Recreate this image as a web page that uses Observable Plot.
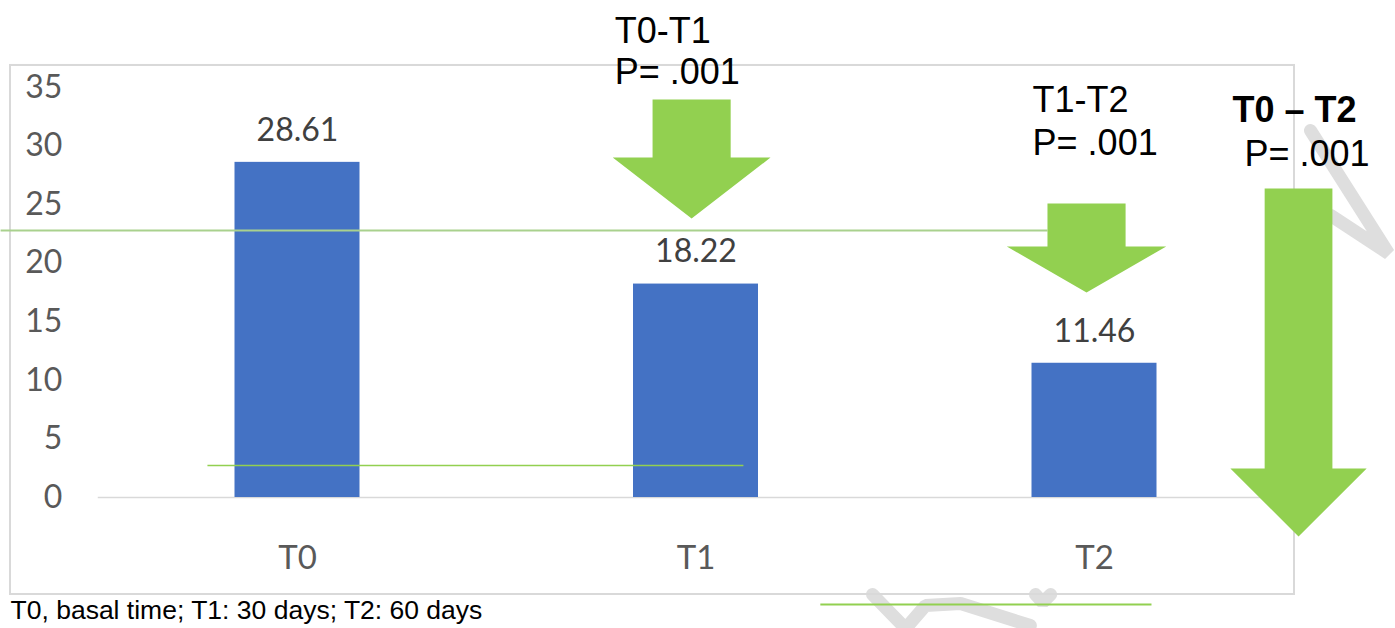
<!DOCTYPE html>
<html><head><meta charset="utf-8">
<script src="https://cdn.jsdelivr.net/npm/d3@7"></script>
<script src="https://cdn.jsdelivr.net/npm/@observablehq/plot@0.6"></script>
<style>html,body{margin:0;padding:0;background:#fff;} svg{display:block}</style>
</head><body><div id="chart"></div>
<script>
// ---- data ----
const categories = ["T0", "T1", "T2"];
const values = [28.61, 18.22, 11.46];
const yTicks = [0, 5, 10, 15, 20, 25, 30, 35];
const comparisonLabels = ["T0-T1", "T1-T2", "T0 – T2"];
const pLabels = ["P= .001", "P= .001", "P= .001"];
const caption = "T0, basal time; T1: 30 days; T2: 60 days";

// ---- annotation layout (in scale units: x = category index space, y = value) ----
const arrowLayout = [
  {cx: 1.489, sw: 0.098, hw: 0.198, top: 33.98, base: 29.02, tip: 23.82},
  {cx: 2.480, sw: 0.098, hw: 0.200, top: 25.10, base: 21.43, tip: 17.50},
  {cx: 3.012, sw: 0.085, hw: 0.171, top: 26.38, base: 2.48, tip: -3.33}
];
const labelLayout = [
  {x1: 1.296, y1: 38.84, x2: 1.296, y2: 35.26, bold: false},
  {x1: 2.3446, y1: 32.87, x2: 2.3446, y2: 29.20, bold: false},
  {x1: 2.8463, y1: 32.02, x2: 2.8764, y2: 28.34, bold: true}
];
const greenLines = [
  {x1: -0.245, x2: 2.382, y: 22.79, stroke: "#A9D18E", w: 2},
  {x1: 0.274, x2: 1.619, y: 2.73, stroke: "#92D050", w: 1.5},
  {x1: 1.812, x2: 2.643, y: -9.13, stroke: "#92D050", w: 2}
];
const watermark = [
  [[3.042, 31.33], [3.238, 20.83], [3.093, 24.07]],
  [[1.943, -8.28], [2.026, -11.18], [2.076, -9.22], [2.164, -9.05], [2.339, -10.93]],
  [[2.352, -8.28], [2.370, -8.96], [2.390, -8.28]]
];

// ---- derived tables ----
const bars = categories.map((c, i) => ({cat: c, i, value: values[i]}));
const arrowPts = [];
arrowLayout.forEach((a, k) => {
  [[a.cx - a.sw, a.top], [a.cx + a.sw, a.top], [a.cx + a.sw, a.base], [a.cx + a.hw, a.base],
   [a.cx, a.tip], [a.cx - a.hw, a.base], [a.cx - a.sw, a.base]]
    .forEach(([x, y]) => arrowPts.push({id: k, x, y}));
});
const wmPts = [];
watermark.forEach((s, k) => s.forEach(([x, y]) => wmPts.push({id: k, x, y})));
const annot = [];
labelLayout.forEach((l, k) => {
  annot.push({x: l.x1, y: l.y1, text: comparisonLabels[k], bold: l.bold});
  annot.push({x: l.x2, y: l.y2, text: pLabels[k], bold: false});
});

const chart = Plot.plot({
  width: 1395,
  height: 628,
  marginLeft: 97.75,
  marginRight: 101.75,
  marginTop: 87,
  marginBottom: 131,
  x: {domain: [0, 3]},
  y: {domain: [0, 35]},
  style: {fontFamily: "Lato, sans-serif", background: "white", overflow: "visible"},
  marks: [
    Plot.line(wmPts, {x: "x", y: "y", z: "id", stroke: "#dedede", strokeWidth: 13, strokeLinejoin: "miter"}),
    Plot.rect([0], {x1: -0.2202, x2: 3.0019, y1: 36.88, y2: -8.28, fill: "none", stroke: "#d9d9d9", strokeWidth: 2}),
    Plot.ruleY([0], {stroke: "#d9d9d9", strokeWidth: 1.5}),
    Plot.rectY(bars, {x: "i", interval: 1, y: "value", insetLeft: 136.75, insetRight: 136.75, fill: "#4472C4"}),
    Plot.link(greenLines, {x1: "x1", x2: "x2", y1: "y", y2: "y", stroke: d => d.stroke, strokeWidth: d => d.w}),
    Plot.text(bars, {x: d => d.i + 0.5, y: "value", text: d => d.value.toFixed(2), dy: -32, fontSize: 32, fill: "#404040"}),
    Plot.line(arrowPts, {x: "x", y: "y", z: "id", fill: "#92D050", stroke: "none"}),
    Plot.text(annot.filter(d => !d.bold), {x: "x", y: "y", text: "text", textAnchor: "start", lineAnchor: "bottom", fontSize: 36, fontFamily: "'Liberation Sans', Arial, sans-serif", fill: "#000"}),
    Plot.text(annot.filter(d => d.bold), {x: "x", y: "y", text: "text", textAnchor: "start", lineAnchor: "bottom", fontSize: 36, fontWeight: "bold", fontFamily: "'Liberation Sans', Arial, sans-serif", fill: "#000"}),
    Plot.text([caption], {x: -0.2202, y: -10.33, text: d => d, textAnchor: "start", lineAnchor: "bottom", fontSize: 26.5, fontFamily: "'Liberation Sans', Arial, sans-serif", fill: "#000"}),
    Plot.axisY(yTicks, {tickSize: 0, tickPadding: 36, fontSize: 32, fill: "#595959", label: null}),
    Plot.axisX([0.5, 1.5, 2.5], {tickFormat: d => categories[Math.floor(d)], tickSize: 0, tickPadding: 48, fontSize: 33, fill: "#595959", label: null})
  ]
});
document.getElementById("chart").appendChild(chart);
</script>
</body></html>
